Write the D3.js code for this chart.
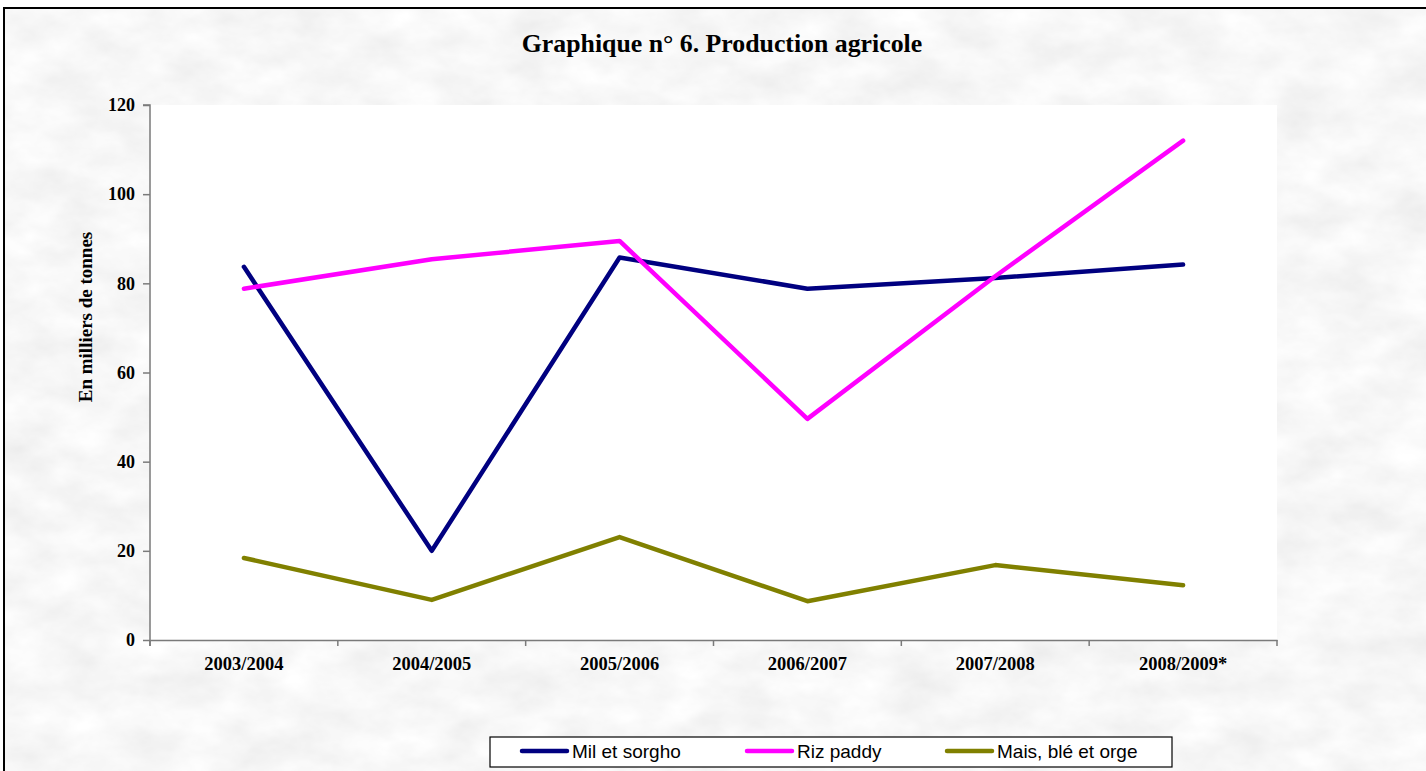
<!DOCTYPE html>
<html>
<head>
<meta charset="utf-8">
<script src="https://cdn.jsdelivr.net/npm/d3@7"></script>
<style>
  html, body { margin: 0; padding: 0; background: #ffffff; }
  svg { display: block; }
</style>
</head>
<body>
<svg id="chart" width="1426" height="771"></svg>
<script>
// ---- Data ----
const categories = ["2003/2004", "2004/2005", "2005/2006", "2006/2007", "2007/2008", "2008/2009*"];
const milEtSorgho = [83.7, 20.0, 85.8, 78.8, 81.2, 84.2];
const rizPaddy = [78.8, 85.4, 89.5, 49.6, 81.6, 112.0];
const maisBleOrge = [18.4, 9.0, 23.1, 8.7, 16.8, 12.3];
const yTicks = [0, 20, 40, 60, 80, 100, 120];
const seriesNames = ["Mil et sorgho", "Riz paddy", "Mais, blé et orge"];
const seriesColors = ["#000080", "#FF00FF", "#808000"];
const titleText = "Graphique n° 6. Production agricole";
const yLabelText = "En milliers de tonnes";

const series = [milEtSorgho, rizPaddy, maisBleOrge].map((vals, i) => ({
  name: seriesNames[i], color: seriesColors[i], values: vals
}));

// ---- Layout ----
const W = 1426, H = 771;
const plot = { left: 150, right: 1277, top: 105, bottom: 640 };
const svg = d3.select("#chart");

// textured background
const defs = svg.append("defs");
const f = defs.append("filter").attr("id", "marble")
  .attr("x", 0).attr("y", 0).attr("width", "100%").attr("height", "100%");
f.append("feTurbulence").attr("type", "fractalNoise")
  .attr("baseFrequency", "0.018 0.03").attr("numOctaves", 4).attr("seed", 7).attr("result", "n");
f.append("feColorMatrix").attr("in", "n").attr("type", "matrix")
  .attr("values", "0.2 0 0 0 0.83  0.2 0 0 0 0.83  0.2 0 0 0 0.83  0 0 0 0 1");

svg.append("rect").attr("x", 4).attr("y", 8).attr("width", W - 4).attr("height", H - 8)
  .attr("fill", "#efefef");
svg.append("rect").attr("x", 4).attr("y", 8).attr("width", W - 4).attr("height", H - 8)
  .attr("filter", "url(#marble)");

// outer border (top and left visible)
svg.append("path").attr("d", `M${W},8 H4 V${H}`)
  .attr("fill", "none").attr("stroke", "#000").attr("stroke-width", 2);

// plot area
svg.append("rect").attr("x", plot.left).attr("y", plot.top)
  .attr("width", plot.right - plot.left).attr("height", plot.bottom - plot.top)
  .attr("fill", "#ffffff");

// scales
const x = d3.scaleBand().domain(categories).range([plot.left, plot.right]).padding(0);
const y = d3.scaleLinear().domain([0, 120]).range([plot.bottom, plot.top]);
const cx = c => x(c) + x.bandwidth() / 2;

const serif = "'Liberation Serif', 'Times New Roman', Times, serif";
const sans = "'Liberation Sans', Arial, Helvetica, sans-serif";

// y axis
const yAxis = svg.append("g").attr("transform", `translate(${plot.left},0)`)
  .call(d3.axisLeft(y).tickValues(yTicks).tickSize(7).tickPadding(8).tickFormat(d3.format("d")));
yAxis.select(".domain").attr("stroke", "#7a7a7a").attr("stroke-width", 1.5)
  .attr("d", `M-7,${y(120)}H0V${plot.bottom + 6}`);
yAxis.selectAll(".tick line").attr("stroke", "#7a7a7a").attr("stroke-width", 1.5);
yAxis.selectAll(".tick text").attr("fill", "#000")
  .style("font-family", serif).style("font-size", "18px").style("font-weight", "bold");

// x axis
const xAxis = svg.append("g").attr("transform", `translate(0,${plot.bottom})`)
  .call(d3.axisBottom(x).tickSize(0).tickPadding(17));
xAxis.select(".domain").attr("stroke", "#7a7a7a").attr("stroke-width", 1.5);
xAxis.selectAll(".tick text").attr("fill", "#000")
  .style("font-family", serif).style("font-size", "18.5px").style("font-weight", "bold");
const edges = categories.map(c => x(c)).concat([x.range()[1]]);
xAxis.selectAll("line.edge").data(edges).enter().append("line").attr("class", "edge")
  .attr("x1", d => d).attr("x2", d => d).attr("y1", 0).attr("y2", 6)
  .attr("stroke", "#7a7a7a").attr("stroke-width", 1.5);

// lines
const line = d3.line().x((d, i) => cx(categories[i])).y(d => y(d));
svg.append("g").selectAll("path").data(series).enter().append("path")
  .attr("d", d => line(d.values))
  .attr("fill", "none").attr("stroke", d => d.color).attr("stroke-width", 4.5)
  .attr("stroke-linejoin", "round").attr("stroke-linecap", "round");

// title
svg.append("text").attr("x", 722).attr("y", 52).attr("text-anchor", "middle")
  .style("font-family", serif).style("font-size", "25.8px").style("font-weight", "bold")
  .text(titleText);

// y label
svg.append("text").attr("transform", "translate(92,317) rotate(-90)").attr("text-anchor", "middle")
  .style("font-family", serif).style("font-size", "19px").style("font-weight", "bold")
  .text(yLabelText);

// legend
const lg = svg.append("g");
lg.append("rect").attr("x", 490).attr("y", 737).attr("width", 682).attr("height", 30)
  .attr("fill", "#fff").attr("stroke", "#000").attr("stroke-width", 1.2);
const legendX = [522, 747, 947];
const items = lg.selectAll("g.item").data(series).enter().append("g").attr("class", "item")
  .attr("transform", (d, i) => `translate(${legendX[i]},751)`);
items.append("line").attr("x1", 0).attr("x2", 45).attr("y1", 0).attr("y2", 0)
  .attr("stroke", d => d.color).attr("stroke-width", 4.5).attr("stroke-linecap", "round");
items.append("text").attr("x", 50).attr("y", 7)
  .style("font-family", sans).style("font-size", "19px").text(d => d.name);
</script>
</body>
</html>
